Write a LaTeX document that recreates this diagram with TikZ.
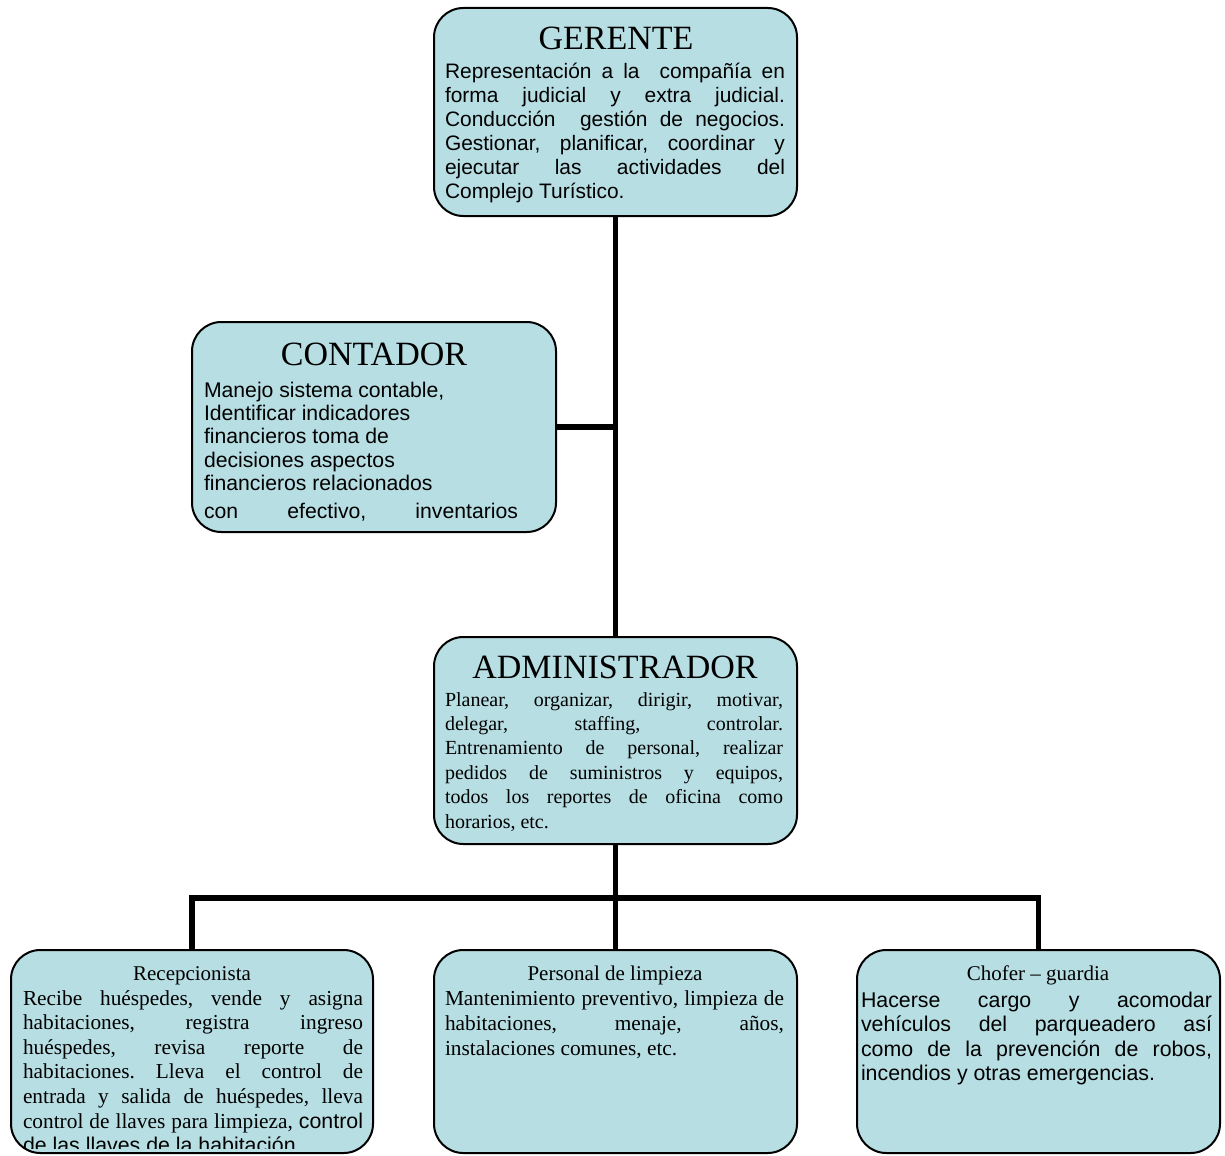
\documentclass[tikz,border=0pt]{standalone}
\usepackage{fontspec}
\setmainfont{Liberation Serif}
\newfontfamily\arial{Liberation Sans}
\usetikzlibrary{fit}
\definecolor{boxfill}{RGB}{183,222,227}
\tikzset{
  orgbox/.style={draw=black, line width=1.5pt, fill=boxfill, rounded corners=22pt, inner sep=0pt},
  link/.style={draw=black, line width=4.3pt},
  txt/.style={inner sep=0pt, outer sep=0pt},
  bigtitle/.style={txt, anchor=base, font=\fontsize{25.5}{30}\selectfont},
  smalltitle/.style={txt, anchor=base, font=\fontsize{15.75}{19}\selectfont},
  bodytxt/.style={txt, anchor=base west},
}
\newcommand\jl[1]{\hbox to\hsize{#1}}
\frenchspacing
\begin{document}
\begin{tikzpicture}[x=0.75pt,y=-0.75pt]
\useasboundingbox (0,0) rectangle (1225,1156);

% boxes
\node[orgbox, fit={(434,8) (797,216)}] (g) {};
\node[orgbox, fit={(192,322) (556,532)}] (c) {};
\node[orgbox, fit={(434,637) (797,844)}] (a) {};
\node[orgbox, fit={(11,950) (373,1153)}] (r) {};
\node[orgbox, fit={(434,950) (797,1153)}] (p) {};
\node[orgbox, fit={(857,950) (1220,1153)}] (h) {};

% connectors
\coordinate (bus) at (615.5,898);
\draw[link] (g.south) -- (a.north);
\draw[link] (c.east) -- (c.east -| g.south);
\draw[link] (a.south) -- (p.north);
\draw[link] (r.north) |- (bus) -| (h.north);

% GERENTE
\node[bigtitle] (gt) at (616,50) {GERENTE};
\node[bodytxt] (gb) at (445,79) {\vtop{\hsize=255pt\arial\fontsize{15.7}{18}\selectfont
 \jl{Representación a la\ \ compañía en}
 \jl{forma judicial y extra judicial.}
 \jl{Conducción\ \ gestión de negocios.}
 \jl{Gestionar, planificar, coordinar y}
 \jl{ejecutar las actividades del}
 \hbox{Complejo Turístico.}}};

% CONTADOR
\node[bigtitle] (ct) at (374,365) {CONTADOR};
\begin{scope}
\clip (192,322) rectangle (556,521);
\node[bodytxt] (cb) at (204,397) {\vtop{\hsize=235.5pt\arial\fontsize{15.9}{17.6}\selectfont
 \hbox{Manejo sistema contable,}
 \hbox{Identificar indicadores}
 \hbox{financieros toma de}
 \hbox{decisiones aspectos}
 \hbox{financieros relacionados}
 \vskip 3.4pt
 \jl{con efectivo, inventarios}}};
\end{scope}

% ADMINISTRADOR
\node[bigtitle] (at) at (615,678) {ADMINISTRADOR};
\node[bodytxt] (ab) at (445,706) {\vtop{\hsize=253.5pt\fontsize{15}{18.3}\selectfont
 \jl{Planear, organizar, dirigir, motivar,}
 \jl{delegar, staffing, controlar.}
 \jl{Entrenamiento de personal, realizar}
 \jl{pedidos de suministros y equipos,}
 \jl{todos los reportes de oficina como}
 \hbox{horarios, etc.}}};

% Recepcionista
\node[smalltitle] (rt) at (192,980) {Recepcionista};
\begin{scope}
\clip (11,950) rectangle (373,1148);
\node[bodytxt] (rb) at (23,1005) {\vtop{\hsize=255pt\fontsize{16}{18.45}\selectfont
 \jl{Recibe huéspedes, vende y asigna}
 \jl{habitaciones, registra ingreso}
 \jl{huéspedes, revisa reporte de}
 \jl{habitaciones. Lleva el control de}
 \jl{entrada y salida de huéspedes, lleva}
 \jl{control de llaves para limpieza, {\arial control}}
 \hbox{\arial de las llaves de la habitación.}}};
\end{scope}

% Personal de limpieza
\node[smalltitle] (pt) at (615,980) {Personal de limpieza};
\node[bodytxt] (pb) at (445,1005) {\vtop{\hsize=254.25pt\fontsize{16}{18.75}\selectfont
 \jl{Mantenimiento preventivo, limpieza de}
 \jl{habitaciones, menaje, años,}
 \hbox{instalaciones comunes, etc.}}};

% Chofer - guardia
\node[smalltitle] (ht) at (1038,980) {Chofer \textendash{} guardia};
\node[bodytxt] (hb) at (861,1007) {\vtop{\hsize=263.25pt\arial\fontsize{16}{18.4}\selectfont
 \jl{Hacerse cargo y acomodar}
 \jl{vehículos del parqueadero así}
 \jl{como de la prevención de robos,}
 \hbox{incendios y otras emergencias.}}};
\end{tikzpicture}
\end{document}
